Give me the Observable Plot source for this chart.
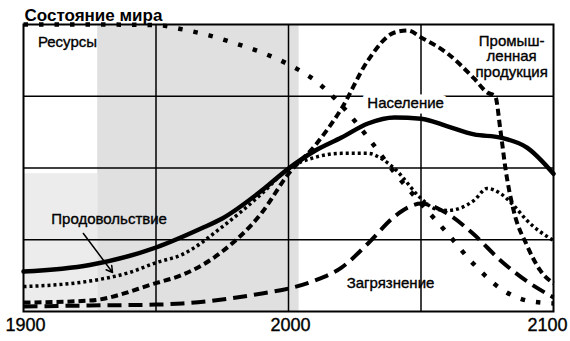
<!DOCTYPE html>
<html><head><meta charset="utf-8">
<script src="https://cdn.jsdelivr.net/npm/d3@7"></script>
<script src="https://cdn.jsdelivr.net/npm/@observablehq/plot@0.6"></script>
<style>
body{margin:0;background:#fff;}
#chart svg{display:block;}
</style>
</head><body><div id="chart"></div>
<script>
// [year, relative level 0..100]
const resources = [[1900,100],[1925,100],[1950,99.8],[1960,98.3],[1970,96.2],[1980,93.4],[1990,90.2],[2000,86.1],[2010,80.5],[2020,71.8],[2030,60.6],[2040,48.4],[2050,37.6],[2060,27.2],[2070,16.4],[2080,8],[2090,3.8],[2100,2.8]];
const industry = [[1900,3.1],[1925,3.8],[1950,9.9],[1960,12.8],[1975,20.9],[1990,34.5],[2000,48],[2010,57.8],[2020,70.7],[2030,87.5],[2040,97.2],[2045,97.9],[2050,95.5],[2060,89.9],[2070,81.2],[2075,76.3],[2078,75],[2080,63],[2082,49],[2085,35],[2090,23],[2095,14.3],[2100,9.8]];
const population = [[1900,13.9],[1925,16.2],[1950,22.3],[1967,28.9],[1975,32.4],[1990,42.2],[2000,49.8],[2010,56],[2020,60.6],[2030,65.5],[2040,67.6],[2050,67.2],[2060,64.5],[2070,61.7],[2080,60.6],[2090,57.1],[2100,48]];
const food = [[1900,8.7],[1925,10.6],[1940,13.6],[1950,17],[1960,19.9],[1975,29.5],[1990,41.1],[2000,49.8],[2010,53.7],[2020,55.1],[2030,55.1],[2035,53.3],[2040,49.8],[2050,39.4],[2055,35.9],[2060,35.2],[2070,38.7],[2075,42.9],[2080,41.1],[2085,36.9],[2090,31.7],[2100,24.7]];
const pollution = [[1900,1.7],[1925,2.1],[1950,2.4],[1960,2.8],[1975,4.2],[1990,6.3],[2000,8],[2010,10.8],[2020,15.3],[2030,23.7],[2040,33.1],[2045,36.2],[2050,37.6],[2060,34.1],[2070,26.8],[2080,17.8],[2090,10.5],[2100,4.9]];
const gridYears = [1950, 2000, 2050];
const gridLevels = [25, 50, 75];
const xTicks = ["1900", "2000", "2100"];
const shade = [{x1:1928, x2:2004, y1:0, y2:100, fill:"#e0e0e0"}, {x1:1900, x2:1928, y1:0, y2:48, fill:"#ececec"}];
const foodArrow = [{x1:1922.6, y1:27.2, x2:1933.6, y2:13.6}];
const title = "Состояние мира";

const X = d => d[0], Y = d => d[1];
const font = "Liberation Sans, Arial, sans-serif";
const lineStyle = {curve: "monotone-x", stroke: "#000", strokeLinecap: "butt", strokeLinejoin: "round"};
const label = {fontSize: 15, fill: "#000", stroke: "#000", strokeWidth: 0.35};

const chart = Plot.plot({
  width: 570, height: 341,
  marginLeft: 23, marginRight: 17, marginTop: 24, marginBottom: 30,
  x: {domain: [1900, 2100], axis: null},
  y: {domain: [0, 100], axis: null},
  style: {fontFamily: font, background: "#fff", overflow: "visible"},
  marks: [
    Plot.rect(shade, {x1:"x1", x2:"x2", y1:"y1", y2:"y2", fill: d => d.fill}),
    Plot.ruleX(gridYears, {stroke: "#000", strokeWidth: 1.5}),
    Plot.ruleY(gridLevels, {stroke: "#000", strokeWidth: 1.5}),
    Plot.frame({stroke: "#000", strokeWidth: 2}),
    Plot.text(["Население"], {x: 2044.2, y: 72.5, fontSize: 15, fill: "#fff", stroke: "#fff", strokeWidth: 11}),
    Plot.line(pollution, {x: X, y: Y, ...lineStyle, strokeWidth: 4, strokeDasharray: "14,7"}),
    Plot.line(resources, {x: X, y: Y, ...lineStyle, strokeWidth: 4.5, strokeDasharray: "4.5,11"}),
    Plot.line(food, {x: X, y: Y, ...lineStyle, strokeWidth: 3.5, strokeDasharray: "3,3"}),
    Plot.line(industry, {x: X, y: Y, ...lineStyle, strokeWidth: 4, strokeDasharray: "7,4"}),
    Plot.line(population, {x: X, y: Y, ...lineStyle, strokeLinecap: "round", strokeWidth: 4.5}),
    Plot.arrow(foodArrow, {x1:"x1", y1:"y1", x2:"x2", y2:"y2", stroke: "#000", strokeWidth: 1.5, headLength: 7}),
    Plot.text(["Население"], {x: 2044.2, y: 72.5, ...label}),
    Plot.text(["Ресурсы"], {x: 1916.6, y: 93.7, ...label}),
    Plot.text(["Промыш-\nленная\nпродукция"], {x: 2084.2, y: 88.9, lineHeight: 1.03, ...label}),
    Plot.text(["Продовольствие"], {x: 1932.3, y: 32, ...label}),
    Plot.text(["Загрязнение"], {x: 2038.5, y: 9.8, ...label}),
    Plot.text([title], {frameAnchor: "top-left", dx: 1, dy: -16, textAnchor: "start", fontSize: 17, fontWeight: "bold", letterSpacing: 0.5, fill: "#000"}),
    Plot.text(xTicks.slice(0, 2), {x: d => +d, text: d => d, frameAnchor: "bottom", dy: 19, dx: 2, ...label, fontSize: 18}),
    Plot.text(xTicks.slice(2), {x: d => +d, text: d => d, frameAnchor: "bottom", dy: 19, dx: -6, ...label, fontSize: 18})
  ]
});
document.getElementById("chart").appendChild(chart);
</script>
</body></html>
